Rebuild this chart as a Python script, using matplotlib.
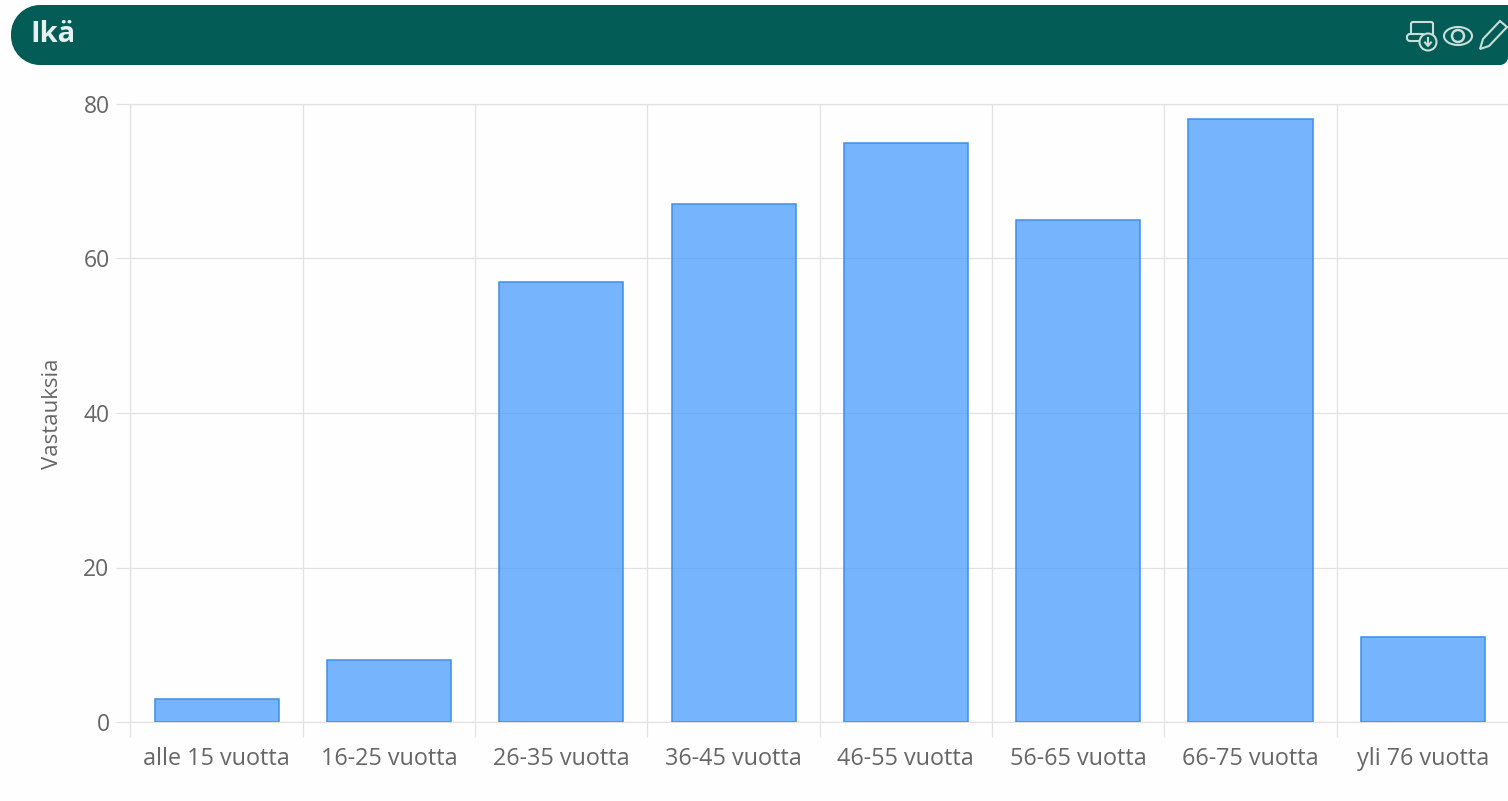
import matplotlib
matplotlib.use('Agg')
import matplotlib.pyplot as plt
from matplotlib.patches import Circle, Ellipse, FancyBboxPatch, PathPatch, Polygon
from matplotlib.path import Path

categories = ['alle 15 vuotta', '16-25 vuotta', '26-35 vuotta', '36-45 vuotta',
              '46-55 vuotta', '56-65 vuotta', '66-75 vuotta', 'yli 76 vuotta']
responses = [3, 8, 57, 67, 75, 65, 78, 11]
y_ticks = [0, 20, 40, 60, 80]
title = 'Ikä'
y_label = 'Vastauksia'

W, H = 1508, 801
plt.rcParams['font.family'] = ['Open Sans', 'DejaVu Sans']
grey = '#666666'
line = '#e2e2e2'
green = '#045c57'

fig = plt.figure(figsize=(W / 100, H / 100), dpi=100, facecolor='#fefefe')

# plot area, starts at 130 px and runs just past the right edge of the picture
ax = fig.add_axes([130.4 / W, 1 - 722 / H, (W + 1 - 130.4) / W, (722 - 104) / H])
ax.set_facecolor('#fefefe')
ax.bar(range(len(categories)), responses, width=0.72, zorder=3,
       facecolor=(0.28, 0.61, 1.0, 0.74), edgecolor='#3d8fe8', linewidth=1.1)
ax.set_xlim(-0.5, 7.5)
ax.set_ylim(0, 80)
ax.set_yticks(y_ticks)
ax.set_xticks([i - 0.5 for i in range(len(categories) + 1)])
ax.set_xticklabels([])
ax.set_xticks(range(len(categories)), categories, minor=True)
ax.grid(True, color=line, linewidth=0.9, zorder=0)
ax.tick_params(axis='y', length=10, width=0.9, color=line, labelcolor=grey, labelsize=16.5, pad=5)
ax.tick_params(axis='x', which='major', length=11, width=0.9, color=line)
ax.tick_params(axis='x', which='minor', length=0, labelcolor=grey, labelsize=16.8, pad=18)
for s in ax.spines.values():
    s.set_color(line)
    s.set_linewidth(0.9)
ax.spines['right'].set_visible(False)
fig.text(52.5 / W, 1 - 414 / H, y_label, rotation=90, color=grey, fontsize=16,
         ha='center', va='center')

# header band and icons, drawn in pixel coordinates
top = fig.add_axes([0, 0, 1, 1], facecolor='none')
top.set_xlim(0, W)
top.set_ylim(H, 0)
top.axis('off')
L, R, T, B, r, rb = 11, W, 5, 65, 29, 8
k = 0.55
verts = [(L + r, T), (R, T), (R, B - rb), (R, B - rb + rb * k), (R - rb + rb * k, B), (R - rb, B),
         (L + r, B), (L + r - r * k, B), (L, B - r + r * k), (L, B - r),
         (L, T + r), (L, T + r - r * k), (L + r - r * k, T), (L + r, T), (L + r, T)]
codes = [Path.MOVETO, Path.LINETO, Path.LINETO, Path.CURVE4, Path.CURVE4, Path.CURVE4,
         Path.LINETO, Path.CURVE4, Path.CURVE4, Path.CURVE4,
         Path.LINETO, Path.CURVE4, Path.CURVE4, Path.CURVE4, Path.CLOSEPOLY]
top.add_patch(PathPatch(Path(verts, codes), facecolor=green, edgecolor='none'))
top.text(30, 35, title, color='#e3f1ef', fontsize=21, fontweight='bold', va='center', ha='left')

ic = '#c9dedb'
top.add_patch(FancyBboxPatch((1411, 22), 22, 18, boxstyle='round,pad=0,rounding_size=2',
                             facecolor='none', edgecolor=ic, linewidth=1.5))
top.add_patch(FancyBboxPatch((1407, 34), 18, 7, boxstyle='round,pad=0,rounding_size=3',
                             facecolor=green, edgecolor=ic, linewidth=1.5))
top.add_patch(Circle((1428, 42), 8.5, facecolor=green, edgecolor=ic, linewidth=1.5))
top.plot([1428, 1428], [38, 45], color=ic, lw=1.5)
top.plot([1425, 1428, 1431], [42.5, 46, 42.5], color=ic, lw=1.5)
top.add_patch(Ellipse((1458, 36), 28, 18, facecolor='none', edgecolor=ic, linewidth=1.5))
top.add_patch(Circle((1458, 36), 6, facecolor='none', edgecolor=ic, linewidth=1.8))
top.add_patch(Polygon([(1480, 49), (1483, 39), (1500, 21), (1507, 27), (1489, 46)],
                      closed=True, facecolor='none', edgecolor=ic, linewidth=1.5))

fig.savefig('out.png', dpi=100, facecolor=fig.get_facecolor())
